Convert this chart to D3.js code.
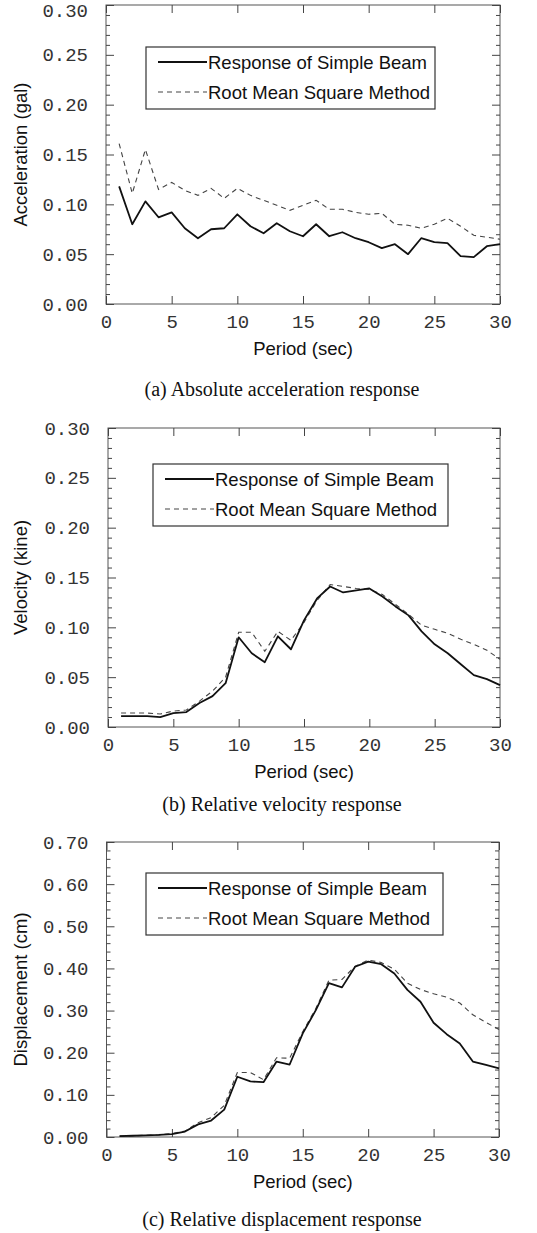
<!DOCTYPE html>
<html>
<head>
<meta charset="utf-8">
<script src="https://cdn.jsdelivr.net/npm/d3@7"></script>
<style>
  body { margin: 0; background: #fff; }
  svg { display: block; }
</style>
</head>
<body>
<svg id="chart"></svg>
<script>
const w = 537;
const h = 1233;

// period (sec)
const periods = [1, 2, 3, 4, 5, 6, 7, 8, 9, 10, 11, 12, 13, 14, 15,
  16, 17, 18, 19, 20, 21, 22, 23, 24, 25, 26, 27, 28, 29, 30];

const accSimple = [0.118, 0.080, 0.103, 0.087, 0.092, 0.076, 0.066, 0.075, 0.076, 0.090,
  0.078, 0.071, 0.081, 0.073, 0.068, 0.080, 0.068, 0.072, 0.066, 0.062,
  0.056, 0.060, 0.050, 0.066, 0.062, 0.061, 0.048, 0.047, 0.058, 0.060];
const accRms = [0.161, 0.111, 0.155, 0.115, 0.122, 0.114, 0.109, 0.116, 0.106, 0.116,
  0.109, 0.104, 0.099, 0.094, 0.099, 0.104, 0.095, 0.095, 0.092, 0.090,
  0.091, 0.080, 0.079, 0.076, 0.080, 0.086, 0.078, 0.069, 0.067, 0.065];

const velSimple = [0.011, 0.011, 0.011, 0.010, 0.014, 0.015, 0.024, 0.031, 0.044, 0.090,
  0.074, 0.065, 0.091, 0.078, 0.107, 0.129, 0.141, 0.135, 0.137, 0.139,
  0.131, 0.121, 0.112, 0.096, 0.083, 0.074, 0.063, 0.052, 0.048, 0.042];
const velRms = [0.014, 0.014, 0.014, 0.013, 0.016, 0.017, 0.026, 0.036, 0.050, 0.095,
  0.095, 0.076, 0.096, 0.087, 0.105, 0.127, 0.143, 0.141, 0.139, 0.138,
  0.133, 0.123, 0.113, 0.102, 0.098, 0.094, 0.088, 0.083, 0.077, 0.068];

const dispSimple = [0.002, 0.003, 0.004, 0.005, 0.007, 0.013, 0.030, 0.039, 0.065, 0.143,
  0.132, 0.130, 0.179, 0.172, 0.246, 0.301, 0.365, 0.355, 0.404, 0.416,
  0.410, 0.388, 0.349, 0.321, 0.271, 0.244, 0.222, 0.179, 0.171, 0.163];
const dispRms = [0.002, 0.003, 0.004, 0.005, 0.008, 0.014, 0.034, 0.046, 0.075, 0.153,
  0.153, 0.136, 0.188, 0.187, 0.250, 0.305, 0.372, 0.374, 0.405, 0.420,
  0.414, 0.398, 0.365, 0.350, 0.340, 0.332, 0.318, 0.290, 0.272, 0.255];

const seriesNames = ["Response of Simple Beam", "Root Mean Square Method"];

const xTicks = [0, 5, 10, 15, 20, 25, 30];
const smallTicks = [0, 0.05, 0.10, 0.15, 0.20, 0.25, 0.30];
const smallMinor = [0.01, 0.02, 0.03, 0.04, 0.06, 0.07, 0.08, 0.09, 0.11, 0.12, 0.13, 0.14,
  0.16, 0.17, 0.18, 0.19, 0.21, 0.22, 0.23, 0.24, 0.26, 0.27, 0.28, 0.29];
const dispTicks = [0, 0.10, 0.20, 0.30, 0.40, 0.50, 0.60, 0.70];
const dispMinor = [0.02, 0.04, 0.06, 0.08, 0.12, 0.14, 0.16, 0.18, 0.22, 0.24, 0.26, 0.28,
  0.32, 0.34, 0.36, 0.38, 0.42, 0.44, 0.46, 0.48, 0.52, 0.54, 0.56, 0.58,
  0.62, 0.64, 0.66, 0.68];

const panels = [
  { left: 106, right: 500, top: 5, bottom: 304, yMax: 0.3, ticks: smallTicks, minor: smallMinor,
    simple: accSimple, rms: accRms, yTitle: "Acceleration (gal)",
    caption: "(a) Absolute acceleration response", capY: 390, legX: 146, legY: 47, legW: 289 },
  { left: 108, right: 500, top: 428, bottom: 727, yMax: 0.3, ticks: smallTicks, minor: smallMinor,
    simple: velSimple, rms: velRms, yTitle: "Velocity (kine)",
    caption: "(b) Relative velocity response", capY: 805, legX: 153, legY: 464, legW: 295 },
  { left: 106.5, right: 499, top: 842, bottom: 1137, yMax: 0.7, ticks: dispTicks, minor: dispMinor,
    simple: dispSimple, rms: dispRms, yTitle: "Displacement (cm)",
    caption: "(c) Relative displacement response", capY: 1220, legX: 146, legY: 873, legW: 297 }
];

const monoFont = "'Liberation Mono', 'Courier New', monospace";
const sansFont = "'Liberation Sans', Arial, sans-serif";
const serifFont = "'Liberation Serif', 'Times New Roman', serif";

const svg = d3.select("#chart")
  .attr("width", w)
  .attr("height", h);

svg.append("rect")
  .attr("width", w)
  .attr("height", h)
  .attr("fill", "#fff");

panels.forEach(p => {
  const x = d3.scaleLinear().domain([0, 30]).range([p.left, p.right]);
  const y = d3.scaleLinear().domain([0, p.yMax]).range([p.bottom, p.top]);

  const g = svg.append("g");

  // frame
  g.append("rect")
    .attr("x", p.left)
    .attr("y", p.top)
    .attr("width", p.right - p.left)
    .attr("height", p.bottom - p.top)
    .attr("fill", "none")
    .attr("stroke", "#555")
    .attr("stroke-width", 1);

  const styleAxis = (sel, font, size) => {
    sel.attr("font-family", font).attr("font-size", size);
    sel.select(".domain").remove();
    sel.selectAll(".tick line").attr("stroke", "#444");
    sel.selectAll(".tick text").attr("fill", "#333");
  };

  // left axis, inward ticks
  g.append("g")
    .attr("transform", `translate(${p.left},0)`)
    .call(d3.axisLeft(y).tickValues(p.ticks).tickSize(-8).tickPadding(18).tickFormat(d3.format(".2f")))
    .call(sel => styleAxis(sel, monoFont, 19))
    .call(sel => sel.selectAll(".tick text").filter(d => y(d) < 12).attr("dy", "0.62em"));
  g.append("g")
    .attr("transform", `translate(${p.left},0)`)
    .call(d3.axisLeft(y).tickValues(p.minor).tickSize(-4).tickFormat(""))
    .call(sel => styleAxis(sel, monoFont, 19));

  // right axis
  g.append("g")
    .attr("transform", `translate(${p.right},0)`)
    .call(d3.axisRight(y).tickValues(p.ticks).tickSize(-8).tickFormat(""))
    .call(sel => styleAxis(sel, monoFont, 19));
  g.append("g")
    .attr("transform", `translate(${p.right},0)`)
    .call(d3.axisRight(y).tickValues(p.minor).tickSize(-4).tickFormat(""))
    .call(sel => styleAxis(sel, monoFont, 19));

  // bottom and top axes
  g.append("g")
    .attr("transform", `translate(0,${p.bottom})`)
    .call(d3.axisBottom(x).tickValues(xTicks).tickSize(-8).tickPadding(11).tickFormat(d3.format("d")))
    .call(sel => styleAxis(sel, monoFont, 19));
  g.append("g")
    .attr("transform", `translate(0,${p.top})`)
    .call(d3.axisTop(x).tickValues(xTicks).tickSize(-8).tickFormat(""))
    .call(sel => styleAxis(sel, monoFont, 19));

  // data lines
  const line = d3.line()
    .x((d, i) => x(periods[i]))
    .y(d => y(d));

  g.append("path")
    .datum(p.rms)
    .attr("d", line)
    .attr("fill", "none")
    .attr("stroke", "#444")
    .attr("stroke-width", 1.1)
    .attr("stroke-dasharray", "5,4");

  g.append("path")
    .datum(p.simple)
    .attr("d", line)
    .attr("fill", "none")
    .attr("stroke", "#111")
    .attr("stroke-width", 1.8)
    .attr("stroke-linejoin", "round");

  // legend
  const leg = g.append("g").attr("transform", `translate(${p.legX},${p.legY})`);
  leg.append("rect")
    .attr("width", p.legW)
    .attr("height", 62)
    .attr("fill", "#fff")
    .attr("stroke", "#333")
    .attr("stroke-width", 1.2);

  const rows = leg.selectAll(".row")
    .data(seriesNames)
    .enter()
    .append("g")
    .attr("class", "row")
    .attr("transform", (d, i) => `translate(0,${15 + i * 30})`);

  rows.append("line")
    .attr("x1", 12)
    .attr("x2", 61)
    .attr("stroke", (d, i) => i === 0 ? "#111" : "#444")
    .attr("stroke-width", (d, i) => i === 0 ? 1.8 : 1.1)
    .attr("stroke-dasharray", (d, i) => i === 0 ? null : "5,4");

  rows.append("text")
    .attr("x", 62)
    .attr("y", 6.5)
    .attr("font-family", sansFont)
    .attr("font-size", 18.5)
    .attr("fill", "#111")
    .text(d => d);

  // axis titles
  g.append("text")
    .attr("transform", `translate(27,${(p.top + p.bottom) / 2}) rotate(-90)`)
    .attr("text-anchor", "middle")
    .attr("font-family", sansFont)
    .attr("font-size", 18.5)
    .attr("fill", "#111")
    .text(p.yTitle);

  g.append("text")
    .attr("x", (p.left + p.right) / 2)
    .attr("y", p.bottom + 51)
    .attr("text-anchor", "middle")
    .attr("font-family", sansFont)
    .attr("font-size", 18.5)
    .attr("fill", "#111")
    .text("Period (sec)");

  // caption
  g.append("text")
    .attr("x", 282)
    .attr("y", p.capY + 6)
    .attr("text-anchor", "middle")
    .attr("font-family", serifFont)
    .attr("font-size", 20)
    .attr("fill", "#111")
    .text(p.caption);
});
</script>
</body>
</html>
